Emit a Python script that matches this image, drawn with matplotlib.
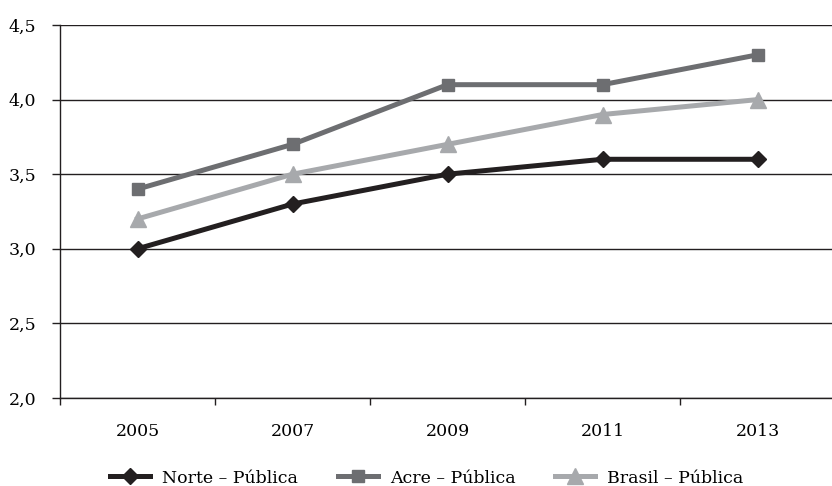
import matplotlib
matplotlib.use("Agg")
import matplotlib.pyplot as plt
from matplotlib.ticker import FuncFormatter, FixedLocator

years = ["2005", "2007", "2009", "2011", "2013"]
norte = [3.0, 3.3, 3.5, 3.6, 3.6]
acre = [3.4, 3.7, 4.1, 4.1, 4.3]
brasil = [3.2, 3.5, 3.7, 3.9, 4.0]
labels = ["Norte – Pública", "Acre – Pública", "Brasil – Pública"]
yticks = [2.0, 2.5, 3.0, 3.5, 4.0, 4.5]

plt.rcParams['font.family'] = ['DejaVu Serif']
FS = 12.5

fig = plt.figure(figsize=(8.32, 4.86), dpi=100)
ax = fig.add_axes([60/832, 1-398/486, 775/832, (398-25)/486])

x = list(range(len(years)))
ax.plot(x, norte, color="#231f20", lw=3.6, marker="D", ms=8.5, label=labels[0], zorder=5)
ax.plot(x, acre, color="#6d6e71", lw=3.6, marker="s", ms=8.5, label=labels[1], zorder=4)
ax.plot(x, brasil, color="#a7a9ac", lw=3.6, marker="^", ms=11, label=labels[2], zorder=3)

ax.set_xlim(-0.5, 4.5)
ax.set_ylim(2.0, 4.5)
ax.set_yticks(yticks)
ax.yaxis.set_major_formatter(FuncFormatter(lambda v, p: f"{v:.1f}".replace(".", ",")))
ax.grid(axis="y", color="#231f20", lw=1.0)
ax.set_axisbelow(True)

ax.set_xticks(x)
ax.set_xticklabels(years)
ax.xaxis.set_minor_locator(FixedLocator([-0.5, 0.5, 1.5, 2.5, 3.5]))
ax.tick_params(axis="x", which="major", length=0, pad=18, labelsize=FS)
ax.tick_params(axis="x", which="minor", length=5, width=1.0, color="#231f20", direction="out")
ax.tick_params(axis="y", length=6, width=1.0, color="#231f20", labelsize=FS, pad=11)

for s in ["top", "right"]:
    ax.spines[s].set_visible(False)
for s in ["left", "bottom"]:
    ax.spines[s].set_color("#231f20")
    ax.spines[s].set_linewidth(1.0)

fig.legend(loc="center", bbox_to_anchor=(0.513, 1-478/486), ncol=3, frameon=False,
           fontsize=FS, handlelength=2.3, columnspacing=2.3, handletextpad=0.7,
           borderpad=0)

fig.savefig("out.png", dpi=100)
